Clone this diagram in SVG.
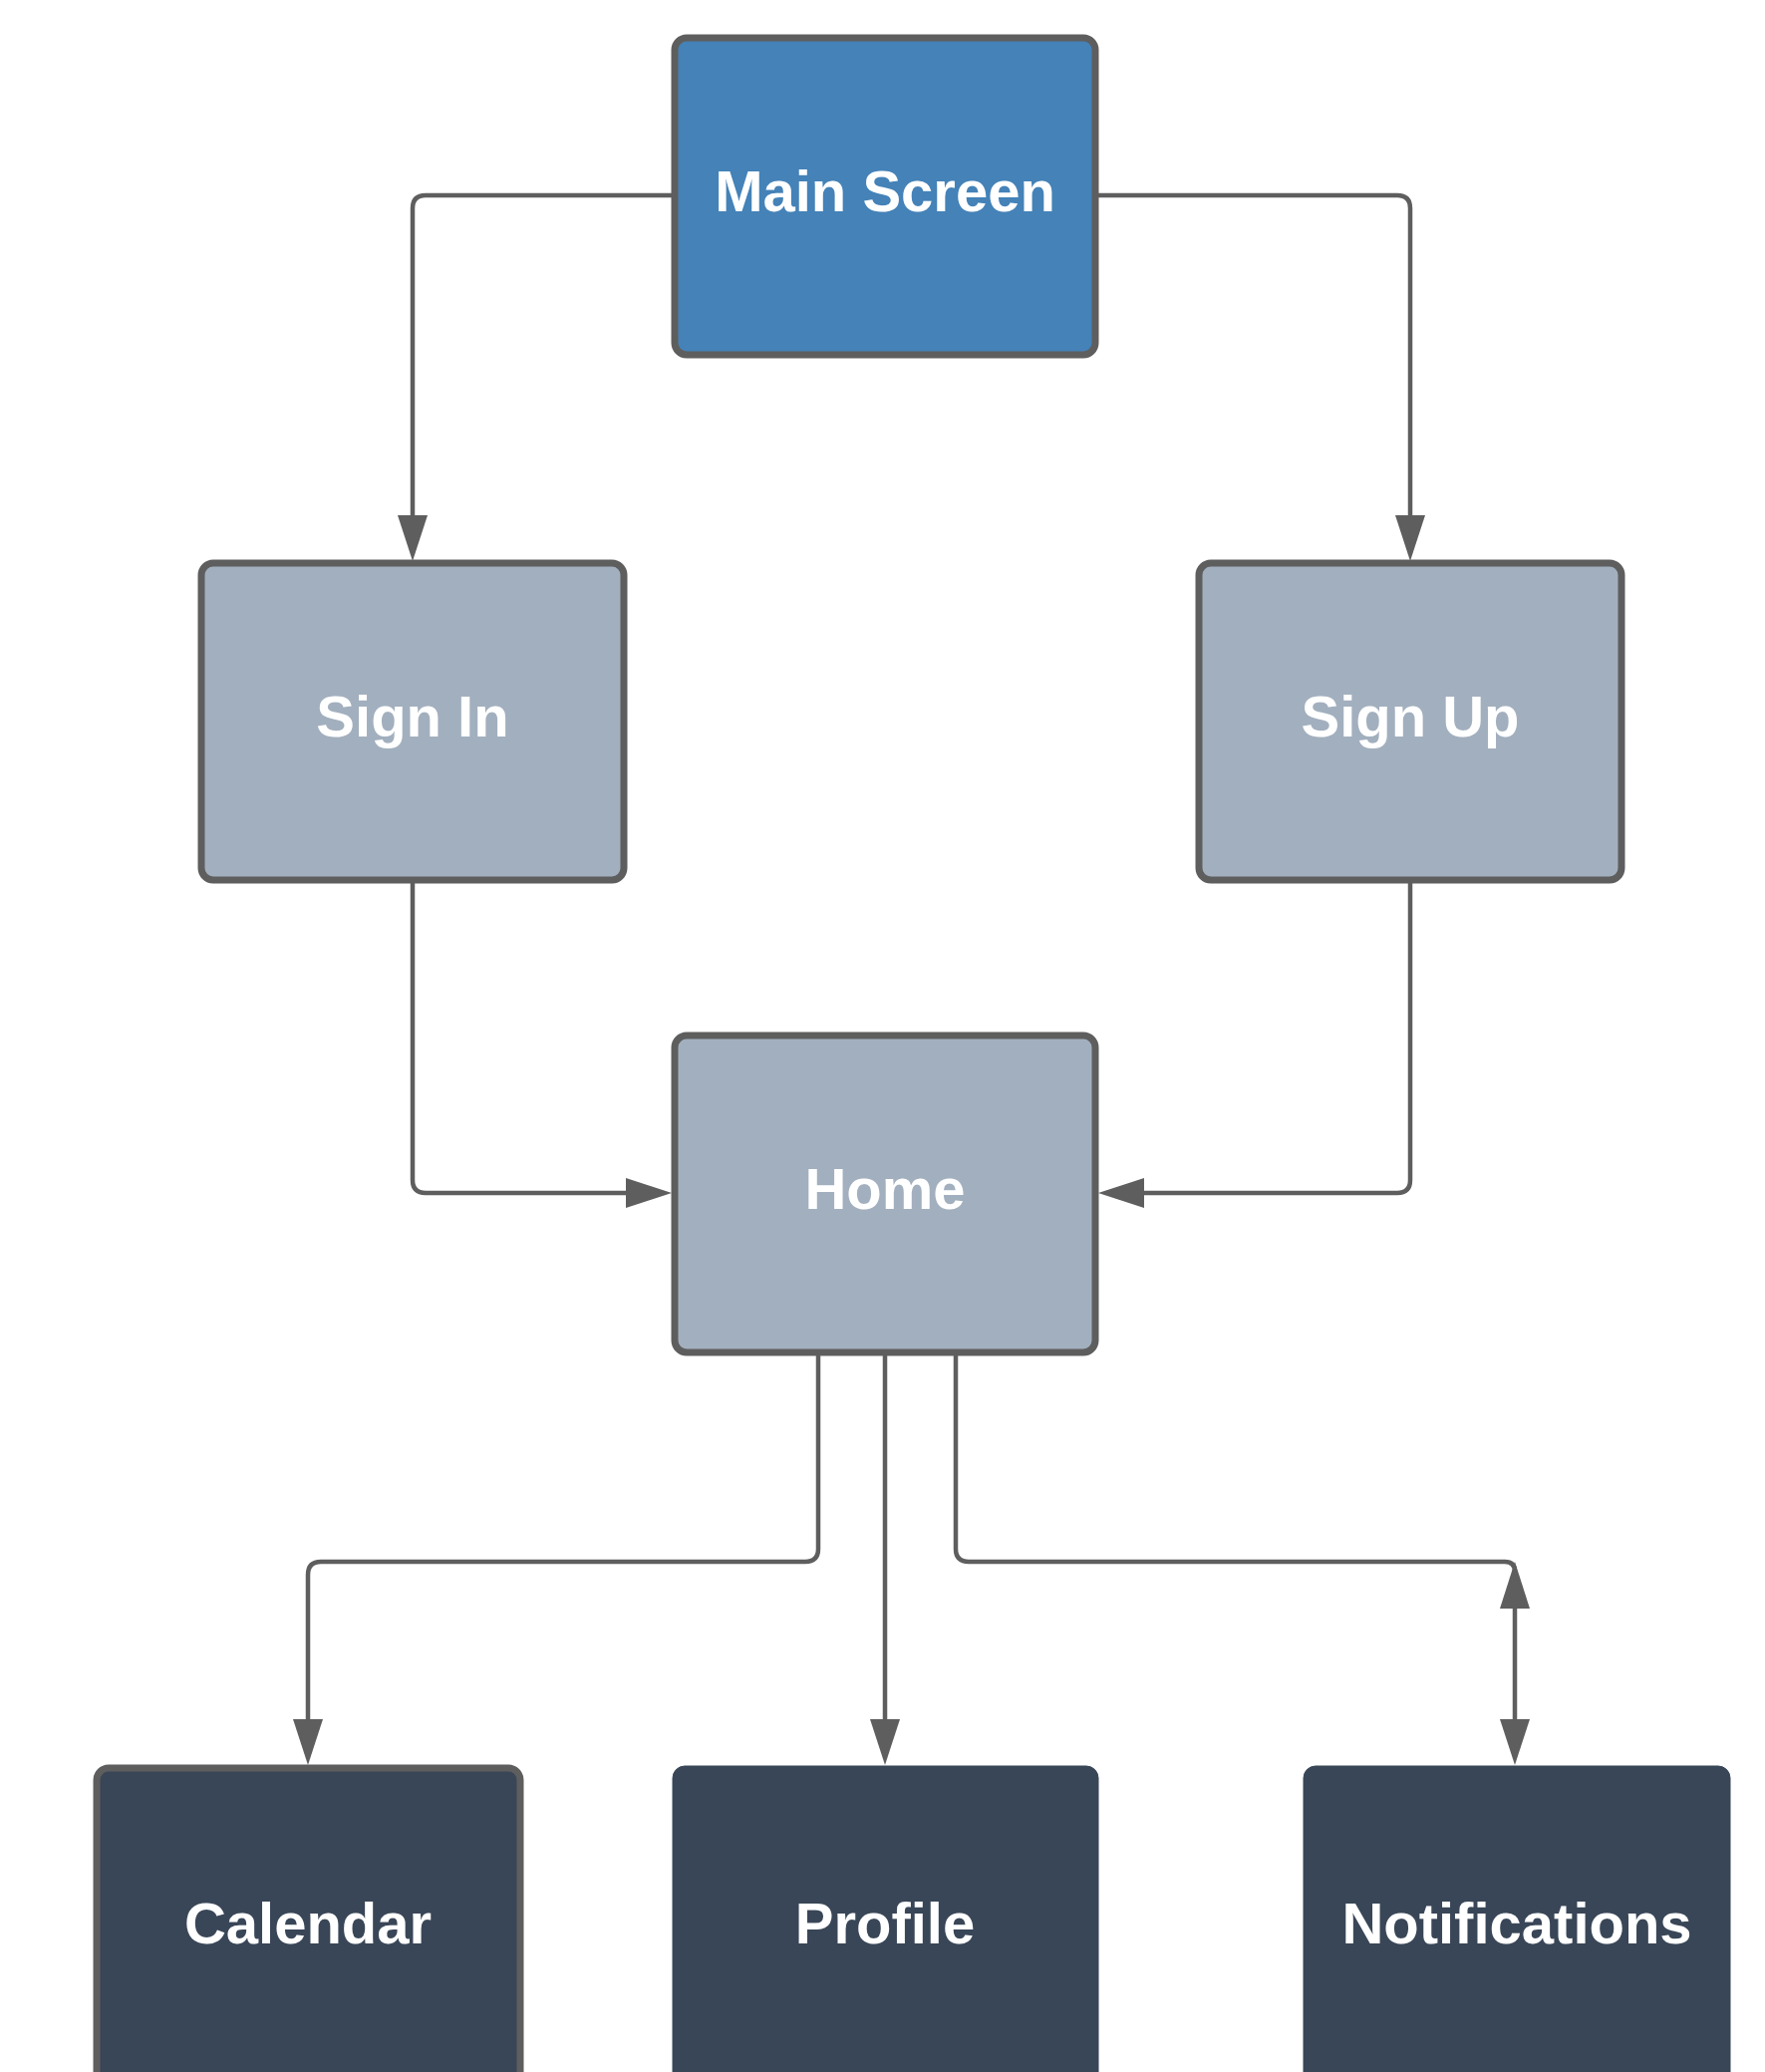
<svg xmlns="http://www.w3.org/2000/svg" width="1771" height="2079" viewBox="0 0 1771 2079">
<style>
.box{stroke:#5e5e5e;stroke-width:7}
.blue{fill:#4482b8}
.gray{fill:#a2afbe}
.dark{fill:#394657;stroke:#394657}
.lbl{font-family:"Liberation Sans",Arial,sans-serif;font-weight:bold;font-size:58px;fill:#ffffff;text-anchor:middle}
.conn{fill:none;stroke:#5e5e5e;stroke-width:4.5}
.head{fill:#5e5e5e}
</style>
<rect width="1771" height="2079" fill="#ffffff"/>
<g id="connectors">
<path class="conn" d="M676,196 H427 Q414,196 414,209 V520"/>
<polygon class="head" points="414,563 399,517 429,517"/>
<path class="conn" d="M1100,196 H1402 Q1415,196 1415,209 V520"/>
<polygon class="head" points="1415,563 1400,517 1430,517"/>
<path class="conn" d="M414,884 V1184 Q414,1197 427,1197 H630"/>
<polygon class="head" points="674,1197 628,1182 628,1212"/>
<path class="conn" d="M1415,884 V1184 Q1415,1197 1402,1197 H1146"/>
<polygon class="head" points="1102,1197 1148,1182 1148,1212"/>
<path class="conn" d="M821,1358 V1554 Q821,1567 808,1567 H322 Q309,1567 309,1580 V1728"/>
<polygon class="head" points="309,1771 294,1725 324,1725"/>
<path class="conn" d="M888,1358 V1728"/>
<polygon class="head" points="888,1771 873,1725 903,1725"/>
<path class="conn" d="M959,1358 V1554 Q959,1567 972,1567 H1510 Q1520,1567 1520,1577 V1728"/>
<polygon class="head" points="1520,1567 1505,1614 1535,1614"/>
<polygon class="head" points="1520,1771 1505,1725 1535,1725"/>
</g>
<g id="main-screen">
<rect class="box blue" x="677" y="38" width="422" height="318" rx="12"/>
<text class="lbl" x="888" y="212">Main Screen</text>
</g>
<g id="sign-in">
<rect class="box gray" x="202" y="565" width="424" height="318" rx="12"/>
<text class="lbl" x="414" y="739">Sign In</text>
</g>
<g id="sign-up">
<rect class="box gray" x="1203" y="565" width="424" height="318" rx="12"/>
<text class="lbl" x="1415" y="739">Sign Up</text>
</g>
<g id="home">
<rect class="box gray" x="677" y="1039" width="422" height="318" rx="12"/>
<text class="lbl" x="888" y="1213">Home</text>
</g>
<g id="calendar">
<rect class="box dark" style="stroke:#5e5e5e" x="97" y="1774" width="425" height="330" rx="12"/>
<text class="lbl" x="309" y="1950">Calendar</text>
</g>
<g id="profile">
<rect class="dark" x="675" y="1772" width="427" height="330" rx="12"/>
<text class="lbl" x="888" y="1950">Profile</text>
</g>
<g id="notifications">
<rect class="dark" x="1308" y="1772" width="428" height="330" rx="12"/>
<text class="lbl" x="1522" y="1950">Notifications</text>
</g>
</svg>
